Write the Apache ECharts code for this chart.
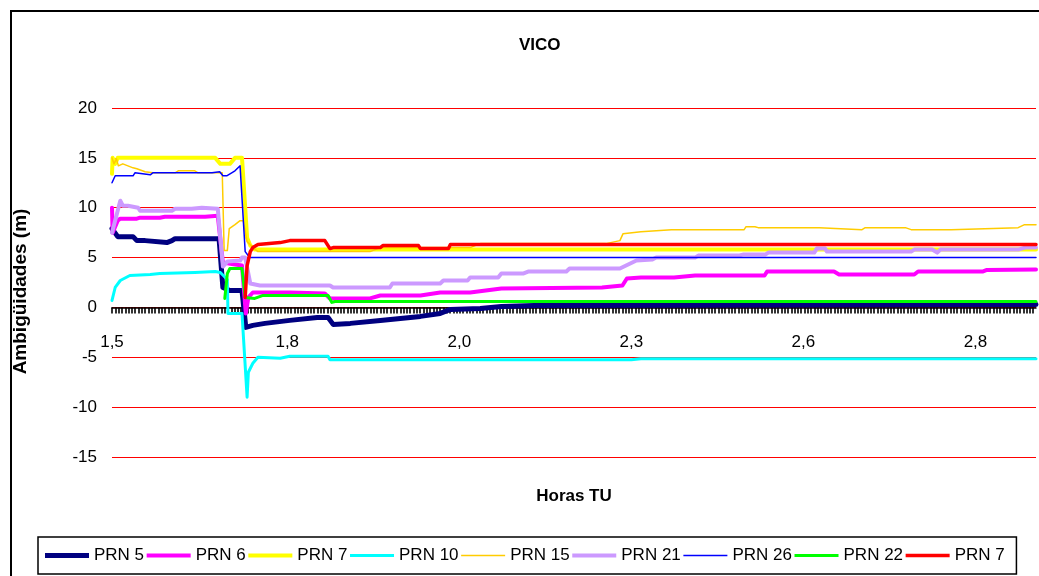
<!DOCTYPE html>
<html><head><meta charset="utf-8">
<script src="https://cdn.jsdelivr.net/npm/echarts@6/dist/echarts.min.js"></script>
<style>html,body{margin:0;padding:0;background:#fff}#c{width:1039px;height:576px}</style>
</head><body><div id="c"></div>
<script>
// ---- data (hours TU, ambiguity in metres) ----
const seriesNames = ['PRN 5', 'PRN 6', 'PRN 7', 'PRN 10', 'PRN 15', 'PRN 21', 'PRN 26', 'PRN 22', 'PRN 7'];
const xTickValues = [1.5, 1.775, 2.045, 2.315, 2.585, 2.855];
const xTickLabels = ['1,5', '1,8', '2,0', '2,3', '2,6', '2,8'];
const yTickValues = [-15, -10, -5, 0, 5, 10, 15, 20];

const prn5 = [[1.500,7.9],[1.509,7.1],[1.533,7.1],[1.539,6.7],[1.552,6.7],[1.555,6.5],[1.586,6.5],[1.589,6.7],[1.594,6.7],[1.599,6.9],[1.668,6.9],[1.674,2.0],[1.685,1.7],[1.704,1.7],[1.710,-2.0],[1.721,-1.8],[1.740,-1.6],[1.779,-1.3],[1.822,-1.0],[1.839,-1.0],[1.847,-1.7],[1.874,-1.6],[1.921,-1.3],[1.984,-0.9],[2.015,-0.6],[2.031,-0.2],[2.078,-0.1],[2.111,0.1],[2.162,0.2],[2.950,0.3]];
const prn6 = [[1.500,10.0],[1.501,7.5],[1.509,8.7],[1.513,8.9],[1.539,8.9],[1.544,9.0],[1.575,9.0],[1.583,9.1],[1.646,9.1],[1.649,9.2],[1.666,9.2],[1.674,4.5],[1.693,4.3],[1.704,4.2],[1.710,-0.6],[1.714,1.0],[1.721,1.5],[1.779,1.5],[1.834,1.4],[1.842,0.9],[1.905,0.9],[1.921,1.2],[1.984,1.2],[2.015,1.5],[2.062,1.5],[2.111,1.9],[2.269,2.0],[2.272,2.2],[2.301,2.2],[2.308,2.9],[2.330,3.0],[2.382,3.0],[2.415,3.2],[2.524,3.2],[2.528,3.6],[2.633,3.6],[2.641,3.3],[2.759,3.3],[2.765,3.6],[2.866,3.6],[2.872,3.75],[2.950,3.8]];
const prn7a = [[1.500,13.4],[1.501,15.0],[1.505,14.4],[1.509,15.0],[1.599,15.0],[1.662,15.0],[1.670,14.4],[1.685,14.4],[1.693,15.0],[1.704,15.0],[1.712,7.0],[1.717,6.2],[1.724,5.8],[2.950,5.8]];
const prn10 = [[1.500,0.7],[1.505,2.0],[1.513,2.7],[1.528,3.2],[1.560,3.3],[1.575,3.4],[1.630,3.5],[1.662,3.6],[1.670,3.5],[1.681,2.8],[1.682,-0.6],[1.704,-0.6],[1.712,-9.0],[1.714,-6.5],[1.721,-5.6],[1.729,-5.0],[1.764,-5.1],[1.779,-4.9],[1.839,-4.9],[1.842,-5.25],[2.315,-5.25],[2.330,-5.15],[2.950,-5.15]];
const prn15 = [[1.500,15.0],[1.503,14.4],[1.507,14.9],[1.510,14.2],[1.517,14.4],[1.533,14.0],[1.539,13.9],[1.552,13.6],[1.564,13.5],[1.599,13.5],[1.604,13.7],[1.630,13.7],[1.635,13.5],[1.673,13.5],[1.676,5.7],[1.681,5.7],[1.684,7.9],[1.693,8.3],[1.701,8.7],[1.706,8.7],[1.712,6.6],[1.721,6.0],[1.729,5.6],[1.905,5.6],[1.921,6.0],[2.062,6.0],[2.078,6.4],[2.275,6.4],[2.297,6.7],[2.302,7.4],[2.330,7.6],[2.378,7.8],[2.492,7.8],[2.495,8.1],[2.509,8.1],[2.514,8.0],[2.610,8.0],[2.613,7.8],[2.677,7.8],[2.682,8.0],[2.745,8.0],[2.754,7.8],[2.817,7.8],[2.819,8.0],[2.922,8.0],[2.932,8.3],[2.950,8.3]];
const prn21 = [[1.500,7.5],[1.513,10.7],[1.517,10.2],[1.525,10.2],[1.528,10.0],[1.541,10.0],[1.544,9.7],[1.594,9.7],[1.599,9.9],[1.625,9.9],[1.628,10.0],[1.641,10.0],[1.644,9.9],[1.666,9.9],[1.674,4.1],[1.681,4.6],[1.701,4.7],[1.704,5.0],[1.709,5.0],[1.717,2.4],[1.732,2.2],[1.842,2.2],[1.847,2.0],[1.936,2.0],[1.940,2.4],[2.015,2.4],[2.020,2.7],[2.058,2.7],[2.062,3.0],[2.106,3.0],[2.111,3.4],[2.145,3.4],[2.153,3.6],[2.213,3.6],[2.218,3.9],[2.297,3.9],[2.323,4.7],[2.348,4.8],[2.354,5.0],[2.415,5.0],[2.420,5.2],[2.483,5.2],[2.490,5.3],[2.525,5.3],[2.530,5.5],[2.602,5.5],[2.606,5.9],[2.619,5.9],[2.622,5.6],[2.754,5.6],[2.759,5.8],[2.787,5.8],[2.795,5.5],[2.800,5.8],[2.922,5.8],[2.933,6.0],[2.950,6.0]];
const prn26 = [[1.500,12.5],[1.505,13.2],[1.533,13.2],[1.536,13.5],[1.539,13.3],[1.560,13.3],[1.564,13.5],[1.657,13.5],[1.660,13.6],[1.669,13.6],[1.674,13.2],[1.680,13.2],[1.693,13.7],[1.701,14.2],[1.704,14.2],[1.709,5.6],[1.716,5.0],[2.950,5.0]];
const prn22 = [[1.677,0.9],[1.681,3.4],[1.685,3.9],[1.704,3.9],[1.709,1.0],[1.724,0.9],[1.737,1.2],[1.839,1.2],[1.845,0.5],[1.850,0.6],[2.950,0.6]];
const prn7b = [[1.709,1.0],[1.712,4.2],[1.717,5.6],[1.721,6.0],[1.729,6.3],[1.764,6.5],[1.779,6.7],[1.834,6.7],[1.842,5.9],[1.847,6.0],[1.921,6.0],[1.925,6.2],[1.981,6.2],[1.984,5.9],[2.028,5.9],[2.031,6.3],[2.950,6.3]];

const seriesData = [prn5, prn6, prn7a, prn10, prn15, prn21, prn26, prn22, prn7b];
const seriesColors = ['#000080', '#FF00FF', '#FFFF00', '#00FFFF', '#FFCC00', '#CC99FF', '#0000FF', '#00FF00', '#FF0000'];
const seriesWidths = [5, 4, 4, 3, 1.5, 4, 1.5, 3, 3.5];

const FONT = "'Liberation Sans', Arial, sans-serif";
// dense category-style tick marks along the time axis
const denseTicks = [];
for (let i = 0; i <= 280; i++) denseTicks.push(+(1.5 + i * 0.0052).toFixed(4));

// legend names must be unique, so the second PRN 7 gets a trailing space
const legendNames = seriesNames.map((n, i) => (i === 8 ? n + ' ' : n));
// line-shaped legend icon of a given thickness inside a 44x14 box
function lineIcon(w) {
  const a = (7 - w / 2).toFixed(2), b = (7 + w / 2).toFixed(2);
  return 'path://M0,0L0.01,0L0,0.01Z M43.99,14L44,14L44,13.99Z M0,' + a + 'L44,' + a + 'L44,' + b + 'L0,' + b + 'Z';
}

const chart = echarts.init(document.getElementById('c'), null, { renderer: 'canvas' });
chart.setOption({
  animation: false,
  backgroundColor: '#fff',
  textStyle: { fontFamily: FONT },
  title: {
    text: 'VICO', left: 514, top: 32,
    textStyle: { fontFamily: FONT, fontSize: 17, fontWeight: 'bold', color: '#000' }
  },
  graphic: [{
    type: 'rect', silent: true, z: -1,
    shape: { x: 11, y: 11, width: 1100, height: 1000 },
    style: { fill: 'none', stroke: '#000', lineWidth: 2 }
  }],
  legend: {
    data: legendNames.map((n, i) => ({ name: n, icon: lineIcon(seriesWidths[i]), itemStyle: { color: seriesColors[i], borderWidth: 0 } })),
    left: 38, top: 537,
    padding: [10, 7, 10, 7],
    itemWidth: 44, itemHeight: 14, itemGap: 2.6,
    symbolKeepAspect: false,
    borderColor: '#000', borderWidth: 1.5,
    itemStyle: { borderWidth: 0 },
    textStyle: { fontFamily: FONT, fontSize: 17, color: '#000' }
  },
  grid: { left: 112, right: 3, top: 108, bottom: 119, containLabel: false, outerBoundsMode: 'none' },
  xAxis: {
    type: 'value', min: 1.5, max: 2.95,
    name: 'Horas TU', nameLocation: 'middle', nameGap: 31, nameMoveOverlap: false,
    nameTextStyle: { fontFamily: FONT, fontSize: 17, fontWeight: 'bold', color: '#000' },
    axisLine: { show: true, onZero: true, lineStyle: { color: '#000', width: 1.5 } },
    axisTick: { show: true, customValues: denseTicks, length: 6, lineStyle: { color: '#000', width: 1.6 } },
    axisLabel: {
      customValues: xTickValues, margin: -123,
      fontFamily: FONT, fontSize: 17, color: '#000',
      formatter: function (v) {
        let best = 0;
        xTickValues.forEach((t, i) => { if (Math.abs(t - v) < Math.abs(xTickValues[best] - v)) best = i; });
        return xTickLabels[best];
      }
    },
    splitLine: { show: false }
  },
  yAxis: {
    type: 'value', min: -15, max: 20, interval: 5,
    name: 'Ambigüidades (m)', nameLocation: 'middle', nameGap: 82, nameMoveOverlap: false,
    nameTextStyle: { fontFamily: FONT, fontSize: 19, fontWeight: 'bold', color: '#000', padding: [0, 18, 0, 0] },
    axisLine: { show: false },
    axisTick: { show: false },
    axisLabel: { margin: 15, fontFamily: FONT, fontSize: 17, color: '#000',
      formatter: v => (yTickValues.indexOf(v) >= 0 ? String(v) : '') },
    splitLine: { show: true, lineStyle: { color: '#FF0000', width: 1.2 } }
  },
  series: seriesData.map((d, i) => ({
    name: legendNames[i],
    type: 'line',
    data: d,
    symbol: 'none',
    smooth: false,
    color: seriesColors[i],
    lineStyle: { color: seriesColors[i], width: seriesWidths[i], join: 'round', cap: 'round' },
    emphasis: { disabled: true }
  }))
});
</script></body></html>
